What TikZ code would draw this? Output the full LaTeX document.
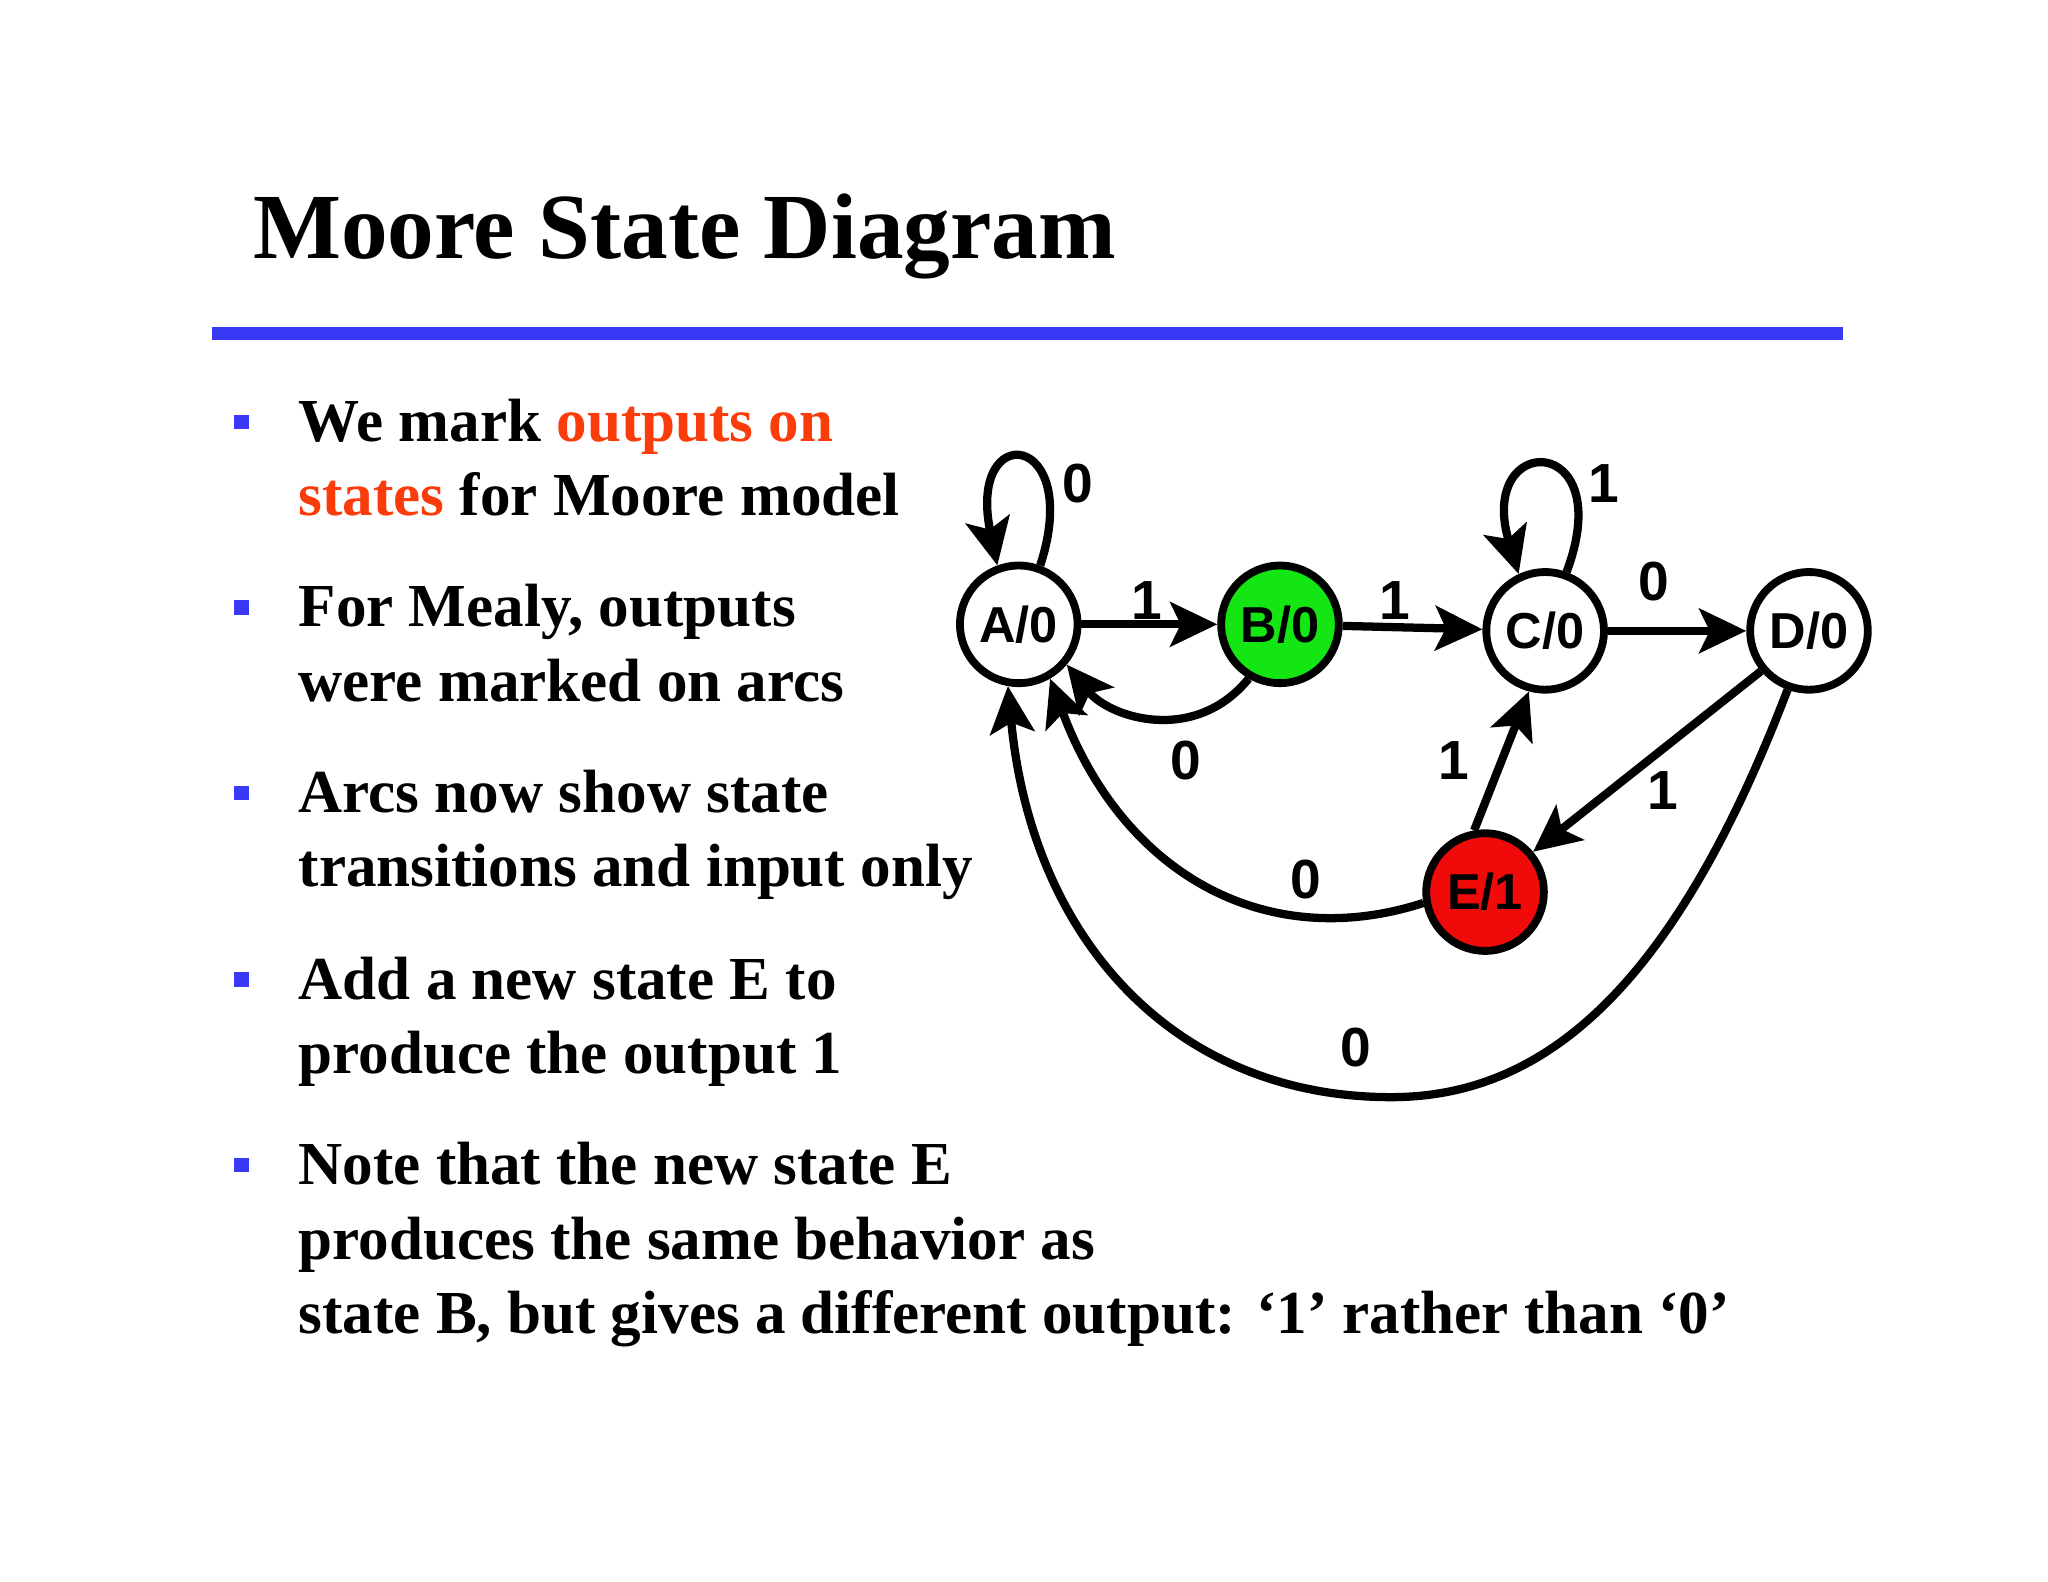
\documentclass[tikz,border=0pt]{standalone}
\usepackage{fontspec}
\setmainfont{Liberation Serif}
\newfontfamily\arialf{Liberation Sans}
\usetikzlibrary{arrows.meta}
\definecolor{rulblue}{RGB}{56,56,245}
\definecolor{hired}{RGB}{250,60,10}
\definecolor{sgreen}{RGB}{20,230,20}
\definecolor{sred}{RGB}{240,10,10}
\begin{document}
\begin{tikzpicture}[x=0.01cm,y=-0.01cm,
  state/.style={circle,draw,line width=1.7pt,minimum size=0.9cm,inner sep=0pt,font=\arialf\bfseries\fontsize{11}{13}\selectfont},
  tr/.style={line width=1.8pt,-{Stealth[length=0.36cm,width=0.34cm,inset=0.08cm]}},
  lab/.style={font=\arialf\bfseries\fontsize{12}{14}\selectfont},
  txt/.style={anchor=base west,inner sep=0pt,font=\bfseries\fontsize{13.3}{15}\selectfont},
  bul/.style={fill=rulblue,minimum size=0.11cm,inner sep=0pt}]
\useasboundingbox[fill=white] (0,0) rectangle (1568,1211);
\node[anchor=base west,inner sep=0pt,font=\bfseries\fontsize{20.3}{24}\selectfont] (title) at (193,198) {Moore State Diagram};
\fill[rulblue] (162,250) rectangle (1411,260);
\foreach \y/\n in {323/b1,465/b2,607/b3,750/b4,892/b5} \node[bul] (\n) at (185,\y) {};
\node[txt] (t1) at (228,338) {We mark \textcolor{hired}{outputs on}};
\node[txt] (t2) at (228,395) {\textcolor{hired}{states} for Moore model};
\node[txt] (t3) at (228,480) {For Mealy, outputs};
\node[txt] (t4) at (228,537) {were marked on arcs};
\node[txt] (t5) at (228,622) {Arcs now show state};
\node[txt] (t6) at (228,679) {transitions and input only};
\node[txt] (t7) at (228,765) {Add a new state E to};
\node[txt] (t8) at (228,822) {produce the output 1};
\node[txt] (t9) at (228,907) {Note that the new state E};
\node[txt] (t10) at (228,964) {produces the same behavior as};
\node[txt] (t11) at (228,1021) {state B, but gives a different output: `1' rather than `0'};
\node[state] (A) at (780,478) {A/0};
\node[state,fill=sgreen] (B) at (980,478) {B/0};
\node[state] (C) at (1183,483) {C/0};
\node[state] (D) at (1385,483) {D/0};
\node[state,fill=sred] (E) at (1137,683) {E/1};
\draw[tr] (A.70) .. controls (830,330) and (740,320) .. (A.110);
\draw[tr] (A) -- (B);
\draw[tr] (B.240) .. controls (915,570) and (850,550) .. (A.-40);
\draw[tr] (B) -- (C);
\draw[tr] (C.70) .. controls (1240,330) and (1130,330) .. (C.115);
\draw[tr] (C) -- (D);
\draw[tr] (D.220) -- (E.40);
\draw[tr] (E.100) -- (C.255);
\draw[tr] (E.190) .. controls (970,730) and (860,670) .. (A.-60);
\draw[tr] (D.250) .. controls (1280,760) and (1180,840) .. (1065,840) .. controls (900,840) and (790,720) .. (A.-100);
\node[lab] (l1) at (825,370) {0};
\node[lab] (l2) at (878,460) {1};
\node[lab] (l3) at (908,582) {0};
\node[lab] (l4) at (1068,460) {1};
\node[lab] (l5) at (1228,370) {1};
\node[lab] (l6) at (1266,445) {0};
\node[lab] (l7) at (1273,605) {1};
\node[lab] (l8) at (1113,582) {1};
\node[lab] (l9) at (1000,673) {0};
\node[lab] (l10) at (1038,802) {0};
\end{tikzpicture}
\end{document}
